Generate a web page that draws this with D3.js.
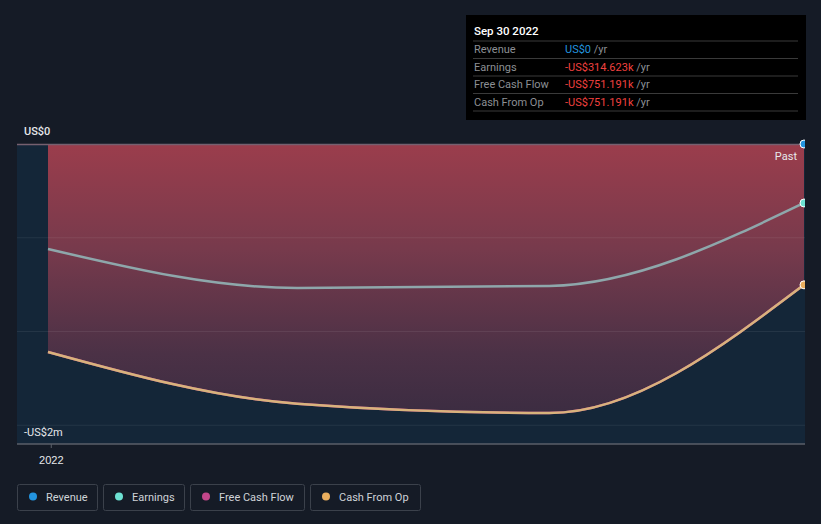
<!DOCTYPE html>
<html>
<head>
<meta charset="utf-8">
<script src="https://cdn.jsdelivr.net/npm/d3@7"></script>
<style>
	body { margin: 0; background: #151b26; }
	svg { display: block; font-family: Roboto, "Noto Sans", sans-serif; }
</style>
</head>
<body>
<svg id="chart" width="821" height="524"></svg>
<script>
const dates = ["2021-12-31", "2022-03-31", "2022-06-30", "2022-09-30"]
const revenue = [0, 0, 0, 0]
const earnings = [-560000, -768000, -757000, -314623]
const freeCashFlow = [-1109000, -1385000, -1435000, -751191]
const cashFromOp = [-1109000, -1385000, -1435000, -751191]

const gridValues = [-500000, -1000000, -1500000]
const legendNames = ["Revenue", "Earnings", "Free Cash Flow", "Cash From Op"]
const legendColors = ["#2394df", "#6de1d2", "#c2468a", "#e9ae5e"]
const tipRows = [
	{label: "Revenue", value: "US$0", color: "#2394df"},
	{label: "Earnings", value: "-US$314.623k", color: "#f0413f"},
	{label: "Free Cash Flow", value: "-US$751.191k", color: "#f0413f"},
	{label: "Cash From Op", value: "-US$751.191k", color: "#f0413f"}
]

const dims = {
	width: 821,
	height: 524,
	margin: ({top: 144, left: 17, right: 16, bottom: 80})
}

const parseDate = d3.timeParse("%Y-%m-%d")
const rows = dates.map((d, i) => ({
	date: parseDate(d),
	revenue: revenue[i],
	earnings: earnings[i],
	fcf: freeCashFlow[i],
	cfo: cashFromOp[i]
}))

const svg = d3.select("#chart")

const x = d3.scaleTime()
	.domain(d3.extent(rows, d => d.date))
	.range([48, 804])

const y = d3.scaleLinear()
	.domain([0, -1600000])
	.range([dims.margin.top, dims.height - dims.margin.bottom])

const plotRight = 805

// past background
svg.append("rect")
	.attr("x", dims.margin.left)
	.attr("y", y(0))
	.attr("width", plotRight - dims.margin.left)
	.attr("height", y.range()[1] - y(0))
	.attr("fill", "#142638")

const defs = svg.append("defs")
const grad = defs.append("linearGradient")
	.attr("id", "redFill")
	.attr("gradientUnits", "userSpaceOnUse")
	.attr("x1", 0).attr("x2", 0)
	.attr("y1", y.range()[0]).attr("y2", y.range()[1])
grad.append("stop").attr("offset", "0%").attr("stop-color", "#9b3d4c")
grad.append("stop").attr("offset", "35%").attr("stop-color", "#773a4c")
grad.append("stop").attr("offset", "70%").attr("stop-color", "#4b3146")
grad.append("stop").attr("offset", "100%").attr("stop-color", "#342a3f")

defs.append("clipPath").attr("id", "plotClip")
	.append("rect")
	.attr("x", dims.margin.left)
	.attr("y", 0)
	.attr("width", plotRight - dims.margin.left)
	.attr("height", dims.height)

const curve = d3.curveMonotoneX

const area = d3.area()
	.x(d => x(d.date))
	.y0(d => y(d.revenue))
	.y1(d => y(Math.min(d.cfo, d.fcf, d.earnings)))
	.curve(curve)

svg.append("path")
	.datum(rows)
	.attr("d", area)
	.attr("fill", "url(#redFill)")

// gridlines
svg.append("g")
	.selectAll("line")
	.data(gridValues)
	.join("line")
		.attr("x1", dims.margin.left)
		.attr("x2", plotRight)
		.attr("y1", d => y(d))
		.attr("y2", d => y(d))
		.attr("stroke", "#ffffff")
		.attr("stroke-opacity", 0.07)

// zero line
svg.append("line")
	.attr("x1", dims.margin.left).attr("x2", plotRight)
	.attr("y1", y(0) + 0.5).attr("y2", y(0) + 0.5)
	.attr("stroke", "#76606f")
	.attr("stroke-width", 1.5)

const lineFor = key => d3.line()
	.x(d => x(d.date))
	.y(d => y(d[key]))
	.curve(curve)

const g = svg.append("g").attr("clip-path", "url(#plotClip)")

g.append("path").datum(rows).attr("d", lineFor("fcf"))
	.attr("fill", "none").attr("stroke", "#c2468a").attr("stroke-width", 2.5)
g.append("path").datum(rows).attr("d", lineFor("cfo"))
	.attr("fill", "none").attr("stroke", "#d8b37c").attr("stroke-width", 2.5)
g.append("path").datum(rows).attr("d", lineFor("earnings"))
	.attr("fill", "none").attr("stroke", "#8ea7ab").attr("stroke-width", 2.5)

// bottom axis line
svg.append("line")
	.attr("x1", dims.margin.left).attr("x2", plotRight)
	.attr("y1", y.range()[1]).attr("y2", y.range()[1])
	.attr("stroke", "#5a5f68")
	.attr("stroke-width", 1.5)

const last = rows[rows.length - 1]
const endDots = [
	{key: "revenue", color: "#2394df"},
	{key: "earnings", color: "#6de1d2"},
	{key: "cfo", color: "#e9ae5e"}
]
g.selectAll("circle")
	.data(endDots)
	.join("circle")
		.attr("cx", x(last.date))
		.attr("cy", d => y(last[d.key]))
		.attr("r", 4)
		.attr("fill", d => d.color)
		.attr("stroke", "#ffffff")
		.attr("stroke-width", 1)

// x axis
const xAxis = d3.axisBottom(x)
	.tickValues([parseDate("2022-01-01")])
	.tickFormat(d3.timeFormat("%Y"))
	.tickSize(4)
const xg = svg.append("g")
	.attr("transform", `translate(0,${y.range()[1]})`)
	.call(xAxis)
xg.select(".domain").remove()
xg.selectAll("line").attr("stroke", "#5a5f68")
xg.selectAll("text")
	.attr("fill", "#e6e8eb")
	.attr("font-size", 11)
	.attr("dy", "1.2em")

// y labels
svg.append("text")
	.attr("x", 24).attr("y", 135)
	.attr("fill", "#e6e8eb")
	.attr("font-size", 11)
	.attr("font-weight", 500)
	.text("US$0")
svg.append("text")
	.attr("x", 24).attr("y", 436)
	.attr("fill", "#e6e8eb")
	.attr("font-size", 11)
	.text("-US$2m")

svg.append("text")
	.attr("x", 797).attr("y", 160)
	.attr("text-anchor", "end")
	.attr("fill", "#e6e8eb")
	.attr("font-size", 11)
	.text("Past")

// tooltip
const tip = svg.append("g").attr("transform", "translate(466,15)")
tip.append("rect")
	.attr("width", 340).attr("height", 105)
	.attr("fill", "#000000")
tip.append("text")
	.attr("x", 8).attr("y", 20)
	.attr("fill", "#ffffff")
	.attr("font-size", 11.5)
	.attr("font-weight", 500)
	.text("Sep 30 2022")

const rowH = 17.5
tipRows.forEach((r, i) => {
	const top = 26 + i * rowH
	tip.append("line")
		.attr("x1", 7).attr("x2", 332)
		.attr("y1", top).attr("y2", top)
		.attr("stroke", "#3a3a3a")
	const t = tip.append("text")
		.attr("y", top + 12)
		.attr("font-size", 11)
	t.append("tspan").attr("x", 8).attr("fill", "#8c8f94").text(r.label)
	const v = tip.append("text")
		.attr("x", 99)
		.attr("y", top + 12)
		.attr("font-size", 11)
	v.append("tspan").attr("fill", r.color).text(r.value)
	v.append("tspan").attr("fill", "#8c8f94").text(" /yr")
})
tip.append("line")
	.attr("x1", 7).attr("x2", 332)
	.attr("y1", 26 + 4 * rowH).attr("y2", 26 + 4 * rowH)
	.attr("stroke", "#3a3a3a")

// legend
const legendWidths = [80, 81, 114, 110]
let lx = 17
const legend = svg.append("g")
legendNames.forEach((name, i) => {
	const item = legend.append("g").attr("transform", `translate(${lx},484)`)
	item.append("rect")
		.attr("x", 0.5).attr("y", 0.5)
		.attr("width", legendWidths[i]).attr("height", 26)
		.attr("rx", 2)
		.attr("fill", "none")
		.attr("stroke", "#3b414b")
	item.append("circle")
		.attr("cx", 16).attr("cy", 12.5).attr("r", 4)
		.attr("fill", legendColors[i])
	item.append("text")
		.attr("x", 29).attr("y", 16.5)
		.attr("fill", "#cfd3d8")
		.attr("font-size", 11)
		.text(name)
	lx += legendWidths[i] + 6
})
</script>
</body>
</html>
